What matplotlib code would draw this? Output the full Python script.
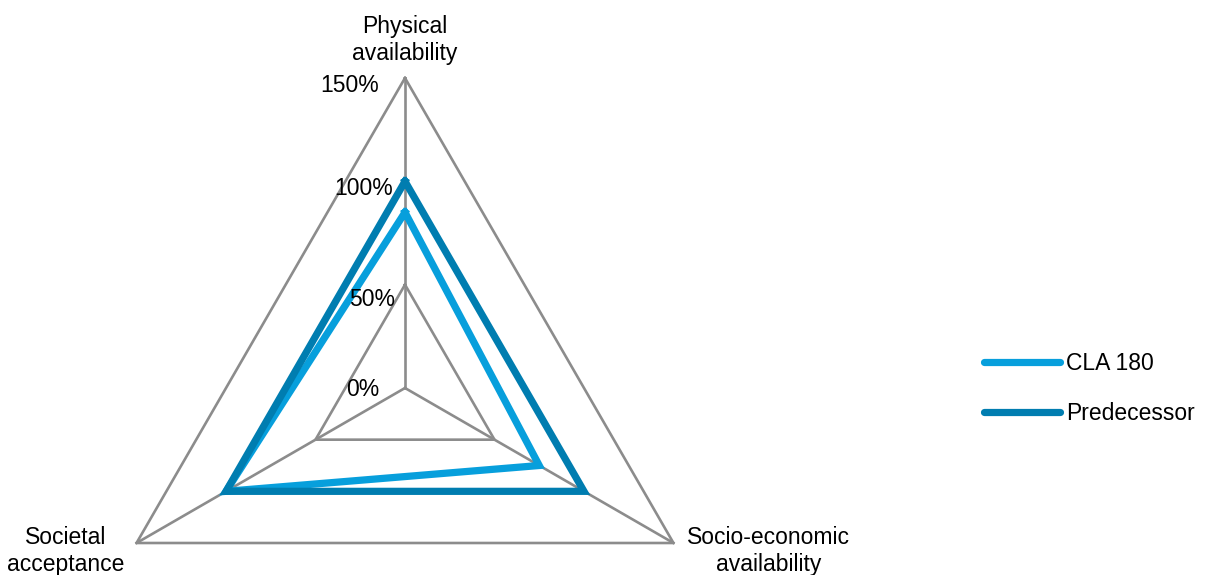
import numpy as np
import matplotlib.pyplot as plt
from matplotlib.lines import Line2D

# Data
categories = ["Physical\navailability", "Socio-economic\navailability", "Societal\nacceptance"]
series_names = ["CLA 180", "Predecessor"]
cla180 = [0.85, 0.75, 1.00]
predecessor = [1.00, 1.00, 1.00]
ticks = [0.0, 0.5, 1.0, 1.5]
tick_labels = ["0%", "50%", "100%", "150%"]

colors = ["#079fdc", "#007db0"]
grid_color = "#8c8c8c"

plt.rcParams['font.family'] = ['Liberation Sans', 'DejaVu Sans']
plt.rcParams['font.size'] = 16.5

# Radar axes go clockwise from the top
angles = np.deg2rad(90 - 120 * np.arange(len(categories)))


def to_xy(values):
    r = np.append(np.asarray(values, dtype=float), values[0])
    a = np.append(angles, angles[0])
    return r * np.cos(a), r * np.sin(a)


fig = plt.figure(figsize=(12.05, 5.75), dpi=100)
ax = fig.add_axes([0, 0, 1, 1])
px = 310 / ticks[-1]  # pixels per unit of value
ax.set_xlim(-405 / px, (1205 - 405) / px)
ax.set_ylim(-(575 - 388) / px, 388 / px)
ax.axis('off')

# Grid polygons and spokes
for t in ticks[1:]:
    gx, gy = to_xy([t] * len(categories))
    ax.plot(gx, gy, color=grid_color, lw=1.9, zorder=1)
for a in angles:
    ax.plot([0, ticks[-1] * np.cos(a)], [0, ticks[-1] * np.sin(a)],
            color=grid_color, lw=1.9, zorder=1)

# Tick labels along the vertical axis (Excel puts them a little unevenly)
tick_offsets = [(-26, -1), (-10, -15), (-12, -7), (-26, -7)]
for t, lab, off in zip(ticks, tick_labels, tick_offsets):
    ax.annotate(lab, xy=(0, t), xytext=off, textcoords='offset pixels',
                ha='right', va='center', color='#000000', zorder=5)

# Category labels
for a, cat in zip(angles, categories):
    x, y = ticks[-1] * np.cos(a), ticks[-1] * np.sin(a)
    if np.isclose(np.cos(a), 0):
        ax.annotate(cat, xy=(x, y), xytext=(0, 13), textcoords='offset pixels',
                    ha='center', va='bottom', multialignment='center')
    elif np.cos(a) > 0:
        ax.annotate(cat, xy=(x, y), xytext=(14, -8), textcoords='offset pixels',
                    ha='left', va='center', multialignment='center')
    else:
        ax.annotate(cat, xy=(x, y), xytext=(-12, -8), textcoords='offset pixels',
                    ha='right', va='center', multialignment='center')

# Series
for vals, c in zip([cla180, predecessor], colors):
    sx, sy = to_xy(vals)
    ax.plot(sx, sy, color=c, lw=5.2, solid_joinstyle='miter', zorder=3)

# Legend
handles = [Line2D([], [], color=c, lw=5.2, solid_capstyle='round') for c in colors]
fig.legend(handles, series_names, loc='center left', bbox_to_anchor=(0.8075, 0.324),
           frameon=False, borderpad=0, handlelength=3.3, handletextpad=0.25,
           labelspacing=1.2, fontsize=16.5)

fig.savefig('out.png', dpi=100)
